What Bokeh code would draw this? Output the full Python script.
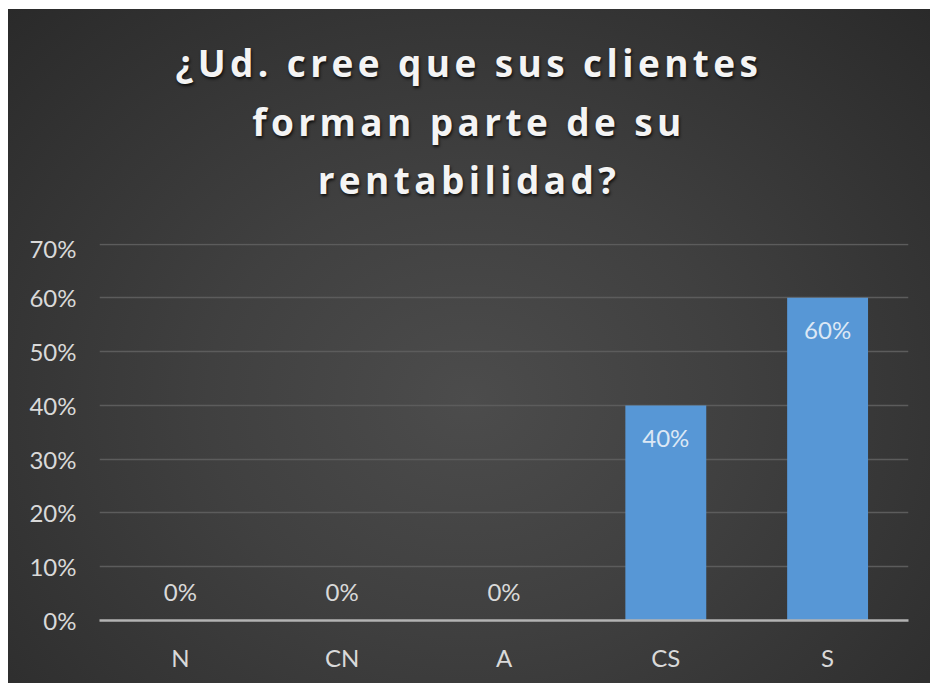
from bokeh.plotting import figure
from bokeh.models import ColumnDataSource, Range1d, FixedTicker, NumeralTickFormatter, Div
from bokeh.layouts import column
from bokeh.core.properties import value
from bokeh.embed import file_html
from bokeh.resources import INLINE

categories = ["N", "CN", "A", "CS", "S"]
shares = [0.0, 0.0, 0.0, 0.4, 0.6]
share_labels = ["0%", "0%", "0%", "40%", "60%"]
y_ticks = [0.0, 0.1, 0.2, 0.3, 0.4, 0.5, 0.6, 0.7]
title_lines = ["¿Ud. cree que sus clientes", "forman parte de su", "rentabilidad?"]

TXT = "#d9d9d9"
FONT = "Lato"

src = ColumnDataSource(dict(
    cat=categories,
    val=shares,
    lab=share_labels,
    off=[-29 if v == 0 else 32 for v in shares],
    col=[TXT if v == 0 else "#dce8f5" for v in shares],
))

title_html = (
    '<div style="width:904px; padding-left:18px; padding-top:25px; text-align:center; '
    'font-family:\'Open Sans\'; font-weight:bold; font-size:37px; line-height:58.5px; '
    'letter-spacing:4.4px; color:#f4f4f4; text-shadow:1px 2px 3px rgba(0,0,0,0.75); '
    'white-space:nowrap;">'
    + "<br>".join(title_lines) + "</div>"
)
title_div = Div(text=title_html, width=922, height=224, margin=0)

p = figure(x_range=categories, y_range=Range1d(0, 0.701), width=922, height=450, margin=0,
           output_backend="svg", toolbar_location=None,
           min_border_left=91, min_border_right=22, min_border_top=10, min_border_bottom=63)
p.background_fill_color = None
p.border_fill_color = None
p.outline_line_color = None

p.vbar(x="cat", top="val", width=0.5, source=src, fill_color="#5797d6", line_color=None)

p.text(x="cat", y="val", text="lab", source=src, text_align="center", text_baseline="alphabetic",
       y_offset="off", text_color="col", text_font=value(FONT), text_font_size="24px")

p.xgrid.grid_line_color = None
p.ygrid.grid_line_color = "#5c5c5c"
p.ygrid.grid_line_width = 1.5
p.yaxis.ticker = FixedTicker(ticks=y_ticks)
p.yaxis.formatter = NumeralTickFormatter(format="0%")
p.yaxis.axis_line_color = None
p.yaxis.major_tick_line_color = None
p.yaxis.minor_tick_line_color = None
p.yaxis.major_label_standoff = 17
p.xaxis.axis_line_color = "#b3b3b3"
p.xaxis.axis_line_width = 2.5
p.xaxis.major_tick_line_color = None
p.xaxis.minor_tick_line_color = None
p.xaxis.major_label_standoff = 16
for ax in (p.xaxis, p.yaxis):
    ax.major_label_text_color = TXT
    ax.major_label_text_font = FONT
    ax.major_label_text_font_size = "24px"

layout = column(title_div, p, spacing=0, margin=(9, 0, 0, 8),
                styles={"background": "radial-gradient(ellipse farthest-corner at 50% 58%, "
                                      "#4c4c4c 0%, #404040 40%, #2a2a2a 100%)"})

open("out.html", "w").write(file_html(layout, INLINE))
